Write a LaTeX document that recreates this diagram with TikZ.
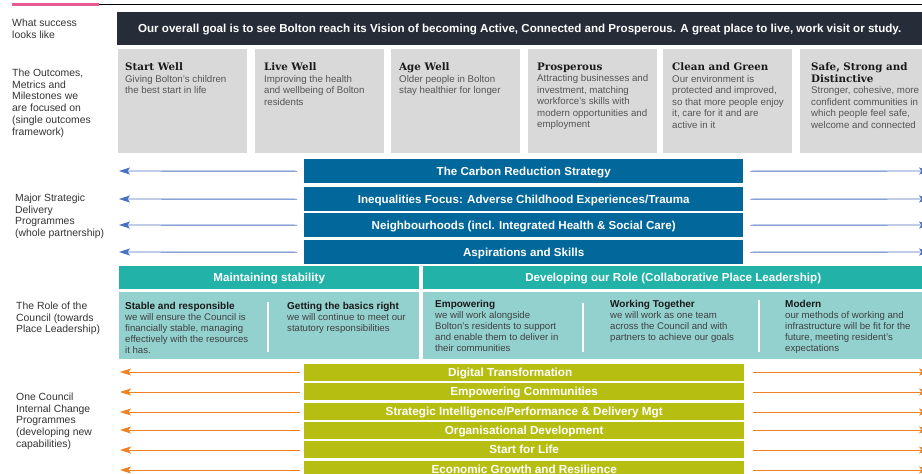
\documentclass[tikz,border=0pt]{standalone}
\usepackage{fontspec}
\setmainfont{Liberation Sans}
\newfontfamily\slabfont{DejaVu Serif}
\usetikzlibrary{arrows.meta}
\definecolor{navybar}{HTML}{262C38}
\definecolor{greybox}{HTML}{D9D9D9}
\definecolor{barblue}{HTML}{02679B}
\definecolor{tealdark}{HTML}{22B2A8}
\definecolor{teallight}{HTML}{93D1CF}
\definecolor{olivebar}{HTML}{B7BE12}
\definecolor{arrowblue}{HTML}{4A70C0}
\definecolor{arroworange}{HTML}{F08020}
\definecolor{labeltext}{HTML}{333333}
\definecolor{bodygrey}{HTML}{555555}
\definecolor{pinkline}{HTML}{E85A93}
\begin{document}
\begin{tikzpicture}[x=1pt,y=-1pt,
  sidelabel/.style={anchor=north west, inner sep=0, align=left, text=labeltext,
    font=\fontsize{10.4}{11.8}\selectfont},
  goalbar/.style={fill=navybar, anchor=north west, minimum width=805pt, minimum height=33pt,
    inner sep=0, text=white, text height=8.4pt, text depth=0pt, font=\bfseries\fontsize{11.6}{13}\selectfont},
  outbox/.style={fill=greybox, anchor=north west, minimum width=129pt, minimum height=104pt, inner sep=0},
  outtext/.style={anchor=north west, inner sep=0, align=left, text=bodygrey,
    font=\fontsize{9.7}{11.5}\selectfont},
  bluebar/.style={fill=barblue, anchor=north west, minimum width=439pt, minimum height=24pt,
    inner sep=0, text=white, text height=8.4pt, text depth=0pt, font=\bfseries\fontsize{11.6}{13}\selectfont},
  tealhead/.style={fill=tealdark, anchor=north west, minimum height=23pt,
    inner sep=0, text=white, text height=8.4pt, text depth=0pt, font=\bfseries\fontsize{11.6}{13}\selectfont},
  tealbox/.style={fill=teallight, anchor=north west, minimum height=67pt, inner sep=0},
  roletext/.style={anchor=north west, inner sep=0, align=left, text=black!75,
    font=\fontsize{9.6}{11}\selectfont},
  divider/.style={draw=white, line width=1.2pt},
  olivebarst/.style={fill=olivebar, anchor=north west, minimum width=440pt, minimum height=17pt,
    inner sep=0, text=white, text height=8.4pt, text depth=0pt, font=\bfseries\fontsize{11.7}{13}\selectfont},
  bluearrow/.style={draw=arrowblue, line width=0.9pt, -{Stealth[length=11pt,width=7pt,inset=2.5pt]}},
  orangearrow/.style={draw=arroworange, line width=1pt, -{Stealth[length=11pt,width=7pt,inset=2.5pt]}}
]
\useasboundingbox (0,0) rectangle (922,474);
\newcommand{\ttl}[1]{{\slabfont\bfseries\fontsize{10.3}{11.5}\selectfont\color{black!90}#1}}
\newcommand{\rtl}[1]{{\bfseries\fontsize{10}{11}\selectfont\color{black!90}#1}}

% top rules
\draw[pinkline, line width=3pt] (12,4) -- (99,4);
\draw[black, line width=0.8pt] (99,4) -- (922,4);

% left labels
\node[sidelabel] (l1) at (12,18.5) {What success\\looks like};
\node[sidelabel] (l2) at (12,68.5) {The Outcomes,\\Metrics and\\Milestones we\\are focused on\\(single outcomes\\framework)};
\node[sidelabel] (l3) at (15,193.5) {Major Strategic\\Delivery\\Programmes\\(whole partnership)};
\node[sidelabel] (l4) at (16,301.5) {The Role of the\\Council (towards\\Place Leadership)};
\node[sidelabel] (l5) at (16,392.5) {One Council\\Internal Change\\Programmes\\(developing new\\capabilities)};

% goal banner
\node[goalbar] (goal) at (117,12) {Our overall goal is to see Bolton reach its Vision of becoming Active, Connected and Prosperous. A great place to live, work visit or study.};

% outcome boxes
\node[outbox] (o1) at (118,49) {};
\node[outbox] (o2) at (255,49) {};
\node[outbox] (o3) at (391,49) {};
\node[outbox] (o4) at (528,49) {};
\node[outbox] (o5) at (663,49) {};
\node[outbox] (o6) at (800,49) {};
\node[outtext] (o1t) at (125,62.5) {\ttl{Start Well}\\Giving Bolton’s children\\the best start in life};
\node[outtext] (o2t) at (264,62.5) {\ttl{Live Well}\\Improving the health\\and wellbeing of Bolton\\residents};
\node[outtext] (o3t) at (399,62.5) {\ttl{Age Well}\\Older people in Bolton\\stay healthier for longer};
\node[outtext] (o4t) at (537,62.5) {\ttl{Prosperous}\\Attracting businesses and\\investment, matching\\workforce’s skills with\\modern opportunities and\\employment};
\node[outtext] (o5t) at (672,62.5) {\ttl{Clean and Green}\\Our environment is\\protected and improved,\\so that more people enjoy\\it, care for it and are\\active in it};
\node[outtext] (o6t) at (811,62.5) {\ttl{Safe, Strong and}\\\ttl{Distinctive}\\Stronger, cohesive, more\\confident communities in\\which people feel safe,\\welcome and connected};

% blue programme bars
\node[bluebar] (b1) at (304,159) {The Carbon Reduction Strategy};
\node[bluebar] (b2) at (304,187) {Inequalities Focus: Adverse Childhood Experiences/Trauma};
\node[bluebar] (b3) at (304,213) {Neighbourhoods (incl. Integrated Health \& Social Care)};
\node[bluebar] (b4) at (304,240) {Aspirations and Skills};
\foreach \i/\yy in {1/171,2/199,3/225,4/252}{
  \coordinate (bl\i) at (119,\yy);
  \coordinate (br\i) at (930,\yy);
  \draw[bluearrow] ([xshift=-7pt]b\i.west) -- (bl\i);
  \draw[bluearrow] ([xshift=7pt]b\i.east) -- (br\i);
}

% role of the council
\node[tealhead, minimum width=300pt] (th1) at (119,266) {Maintaining stability};
\node[tealhead, minimum width=500pt] (th2) at (423,266) {Developing our Role (Collaborative Place Leadership)};
\node[tealbox, minimum width=300pt] (tb1) at (119,292) {};
\node[tealbox, minimum width=500pt] (tb2) at (423,292) {};
\draw[divider] (268,302) -- (268,352);
\draw[divider] (583,303) -- (583,352);
\draw[divider] (759,300) -- (759,352);
\node[roletext] (r1) at (125,302.5) {\rtl{Stable and responsible}\\we will ensure the Council is\\financially stable, managing\\effectively with the resources\\it has.};
\node[roletext] (r2) at (287,302.5) {\rtl{Getting the basics right}\\we will continue to meet our\\statutory responsibilities};
\node[roletext] (r3) at (435,300) {\rtl{Empowering}\\we will work alongside\\Bolton’s residents to support\\and enable them to deliver in\\their communities};
\node[roletext] (r4) at (610,300) {\rtl{Working Together}\\we will work as one team\\across the Council and with\\partners to achieve our goals};
\node[roletext] (r5) at (785,300) {\rtl{Modern}\\our methods of working and\\infrastructure will be fit for the\\future, meeting resident’s\\expectations};

% one council olive bars
\node[olivebarst] (c1) at (304,364) {\hspace*{-28pt}Digital Transformation};
\node[olivebarst] (c2) at (304,383) {Empowering Communities};
\node[olivebarst] (c3) at (304,403) {Strategic Intelligence/Performance \& Delivery Mgt};
\node[olivebarst] (c4) at (304,422) {Organisational Development};
\node[olivebarst] (c5) at (304,441) {Start for Life};
\node[olivebarst] (c6) at (304,461) {Economic Growth and Resilience};
\foreach \i/\yy in {1/372,2/392,3/412,4/430,5/450,6/470}{
  \coordinate (cl\i) at (120,\yy);
  \coordinate (cr\i) at (930,\yy);
  \draw[orangearrow] ([xshift=-4pt]c\i.west |- cl\i) -- (cl\i);
  \draw[orangearrow] ([xshift=9pt]c\i.east |- cr\i) -- (cr\i);
}
\end{tikzpicture}
\end{document}
